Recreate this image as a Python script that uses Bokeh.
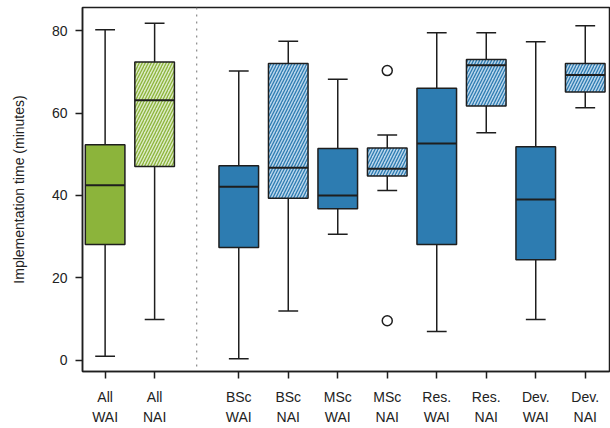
from bokeh.plotting import figure
from bokeh.models import FixedTicker, Range1d, Span, ColumnDataSource
from bokeh.embed import file_html
from bokeh.resources import INLINE

# ---- data ----
labels = ["All\nWAI", "All\nNAI", "BSc\nWAI", "BSc\nNAI", "MSc\nWAI", "MSc\nNAI",
          "Res.\nWAI", "Res.\nNAI", "Dev.\nWAI", "Dev.\nNAI"]
positions = [1, 2, 3.7, 4.7, 5.7, 6.7, 7.7, 8.7, 9.7, 10.7]
whisker_low = [1.0, 9.9, 0.4, 12.0, 30.6, 41.2, 7.0, 55.2, 9.9, 61.3]
q1 = [28.1, 47.0, 27.4, 39.3, 36.8, 44.7, 28.1, 61.7, 24.4, 65.1]
median = [42.5, 63.1, 42.1, 46.7, 40.0, 46.5, 52.6, 71.6, 39.0, 69.2]
q3 = [52.3, 72.4, 47.2, 72.0, 51.4, 51.5, 66.0, 73.0, 51.8, 72.0]
whisker_high = [80.2, 81.8, 70.2, 77.4, 68.2, 54.7, 79.5, 79.5, 77.3, 81.2]
group = ["WAI", "NAI", "WAI", "NAI", "WAI", "NAI", "WAI", "NAI", "WAI", "NAI"]
outlier_pos = [6.7, 6.7]
outlier_val = [70.3, 9.6]
y_ticks = [0, 20, 40, 60, 80]

GREEN = "#8cb43b"
GREEN_LIGHT = "#dcebc6"
BLUE = "#2d7cb1"
BLUE_LIGHT = "#bad6ec"
DARK = "#1e1e1e"

p = figure(width=610, height=428, output_backend="svg", toolbar_location=None,
           x_range=Range1d(0.543, 11.19), y_range=Range1d(-2.7, 85.6),
           min_border_left=82, min_border_right=1, min_border_top=7,
           min_border_bottom=55)
p.xgrid.visible = False
p.ygrid.visible = False
p.background_fill_color = "white"
p.border_fill_color = "white"
p.outline_line_color = DARK
p.outline_line_width = 1.5

solid_fill = []
light_fill = []
hatch_col = []
for i, g in enumerate(group):
    base = GREEN if i < 2 else BLUE
    light = GREEN_LIGHT if i < 2 else BLUE_LIGHT
    solid_fill.append(base if g == "WAI" else light)
    hatch_col.append(base)

src = ColumnDataSource(dict(x=positions, lo=whisker_low, q1=q1, med=median, q3=q3,
                            hi=whisker_high, fill=solid_fill, hatch=hatch_col,
                            pat=[" " if g == "WAI" else "/" for g in group]))

# whiskers
p.segment(x0="x", y0="lo", x1="x", y1="q1", source=src, line_color=DARK, line_width=1.5)
p.segment(x0="x", y0="q3", x1="x", y1="hi", source=src, line_color=DARK, line_width=1.5)
# caps
cap_half = 0.2
src.data["xl"] = [x - cap_half for x in positions]
src.data["xr"] = [x + cap_half for x in positions]
p.segment(x0="xl", y0="lo", x1="xr", y1="lo", source=src, line_color=DARK, line_width=1.5)
p.segment(x0="xl", y0="hi", x1="xr", y1="hi", source=src, line_color=DARK, line_width=1.5)
# boxes
p.vbar(x="x", width=0.8, bottom="q1", top="q3", source=src, fill_color="fill",
       hatch_pattern="pat", hatch_color="hatch", hatch_scale=6, hatch_weight=1.3,
       line_color=DARK, line_width=1.5)
# medians
src.data["bl"] = [x - 0.4 for x in positions]
src.data["br"] = [x + 0.4 for x in positions]
p.segment(x0="bl", y0="med", x1="br", y1="med", source=src, line_color=DARK, line_width=2)
# outliers
p.scatter(outlier_pos, outlier_val, marker="circle", size=10, fill_color="white",
          line_color=DARK, line_width=1.5)

# separator
p.add_layout(Span(location=2.85, dimension="height", line_color="#888888",
                  line_dash="2 5", line_width=1.2))

# axes
p.xaxis.ticker = FixedTicker(ticks=positions)
p.xaxis.major_label_overrides = {pos: lab for pos, lab in zip(positions, labels)}
p.xaxis.minor_tick_line_color = None
p.xaxis.major_tick_in = 0
p.xaxis.major_tick_out = 7
p.xaxis.major_label_standoff = 10
p.xaxis.major_label_text_font = "Liberation Sans"
p.xaxis.major_label_text_font_size = "14px"
p.xaxis.major_label_text_color = "#222222"
p.xaxis.major_label_text_line_height = 1.3
p.xaxis.axis_line_color = DARK
p.xaxis.axis_line_width = 1.5
p.xaxis.major_tick_line_color = DARK
p.xaxis.major_tick_line_width = 1.5

p.yaxis.ticker = FixedTicker(ticks=y_ticks)
p.yaxis.minor_tick_line_color = None
p.yaxis.major_tick_in = 0
p.yaxis.major_tick_out = 7
p.yaxis.major_label_standoff = 8
p.yaxis.major_label_text_font = "Liberation Sans"
p.yaxis.major_label_text_font_size = "14px"
p.yaxis.major_label_text_color = "#222222"
p.yaxis.axis_line_color = DARK
p.yaxis.axis_line_width = 1.5
p.yaxis.major_tick_line_color = DARK
p.yaxis.major_tick_line_width = 1.5
p.yaxis.axis_label = "Implementation time (minutes)"
p.yaxis.axis_label_text_font = "Liberation Sans"
p.yaxis.axis_label_text_font_size = "14px"
p.yaxis.axis_label_text_font_style = "normal"
p.yaxis.axis_label_text_color = "#222222"
p.yaxis.axis_label_standoff = 22

open("out.html", "w").write(file_html(p, INLINE))
